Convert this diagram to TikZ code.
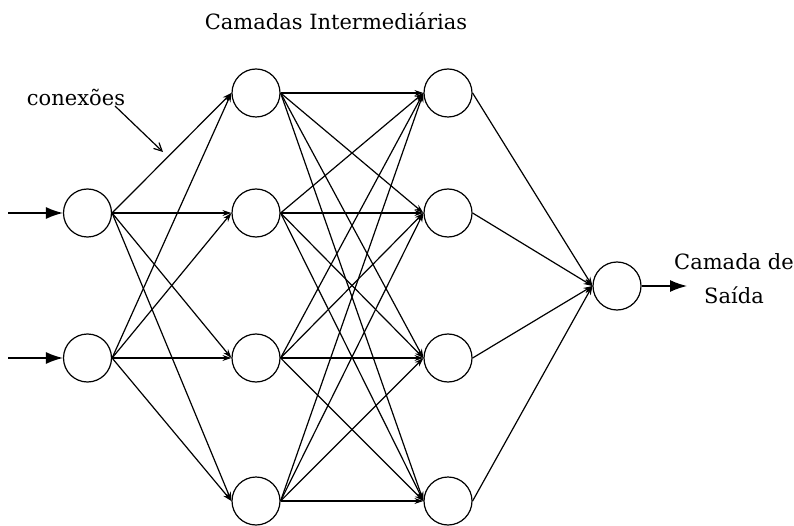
\documentclass[tikz,border=0pt]{standalone}
\usepackage{fontspec}
\setmainfont{DejaVu Serif}
\usetikzlibrary{arrows.meta}
\begin{document}
\begin{tikzpicture}[x=1pt,y=-1pt,
  neuron/.style={draw,circle,minimum size=48pt,inner sep=0pt,line width=1.2pt},
  edge/.style={line width=1.2pt,-{Stealth[length=9pt,width=6pt]}},
  ioarrow/.style={line width=1.4pt,-{Latex[length=17pt,width=12pt]}},
  label/.style={font=\fontsize{21}{34}\selectfont,inner sep=0pt}]
\useasboundingbox (0,0) rectangle (794,526);
% input
\node[neuron] (i1) at (87.5,213) {};
\node[neuron] (i2) at (87.5,358) {};
% hidden 1
\node[neuron] (a1) at (256,93) {};
\node[neuron] (a2) at (256,213) {};
\node[neuron] (a3) at (256,358) {};
\node[neuron] (a4) at (256,501) {};
% hidden 2
\node[neuron] (b1) at (448,93) {};
\node[neuron] (b2) at (448,213) {};
\node[neuron] (b3) at (448,358) {};
\node[neuron] (b4) at (448,501) {};
% output
\node[neuron] (o) at (617,286) {};
% connections
\foreach \s in {i1,i2}{\foreach \t in {a1,a2,a3,a4}{\draw[edge] (\s.east) -- (\t.west);}}
\foreach \s in {a1,a2,a3,a4}{\foreach \t in {b1,b2,b3,b4}{\draw[edge] (\s.east) -- (\t.west);}}
\foreach \s in {b1,b2,b3,b4}{\draw[edge] (\s.east) -- (o.west);}
% input/output arrows
\coordinate (in1) at (8,213);
\coordinate (in2) at (8,358);
\coordinate (outend) at (687,286);
\draw[ioarrow] (in1) -- (i1.west);
\draw[ioarrow] (in2) -- (i2.west);
\draw[ioarrow] (o.east) -- (outend);
% labels
\node[label] (title) at (336,21) {Camadas Intermediárias};
\node[label] (conex) at (76,97) {conexões};
\coordinate (cs) at (115,106);
\coordinate (ce) at (163,152);
\draw[line width=1.2pt,-{Straight Barb[length=8pt,width=8pt]}] (cs) -- (ce);
\node[label,align=center] (saida) at (734,279) {Camada de\\Saída};
\end{tikzpicture}
\end{document}
